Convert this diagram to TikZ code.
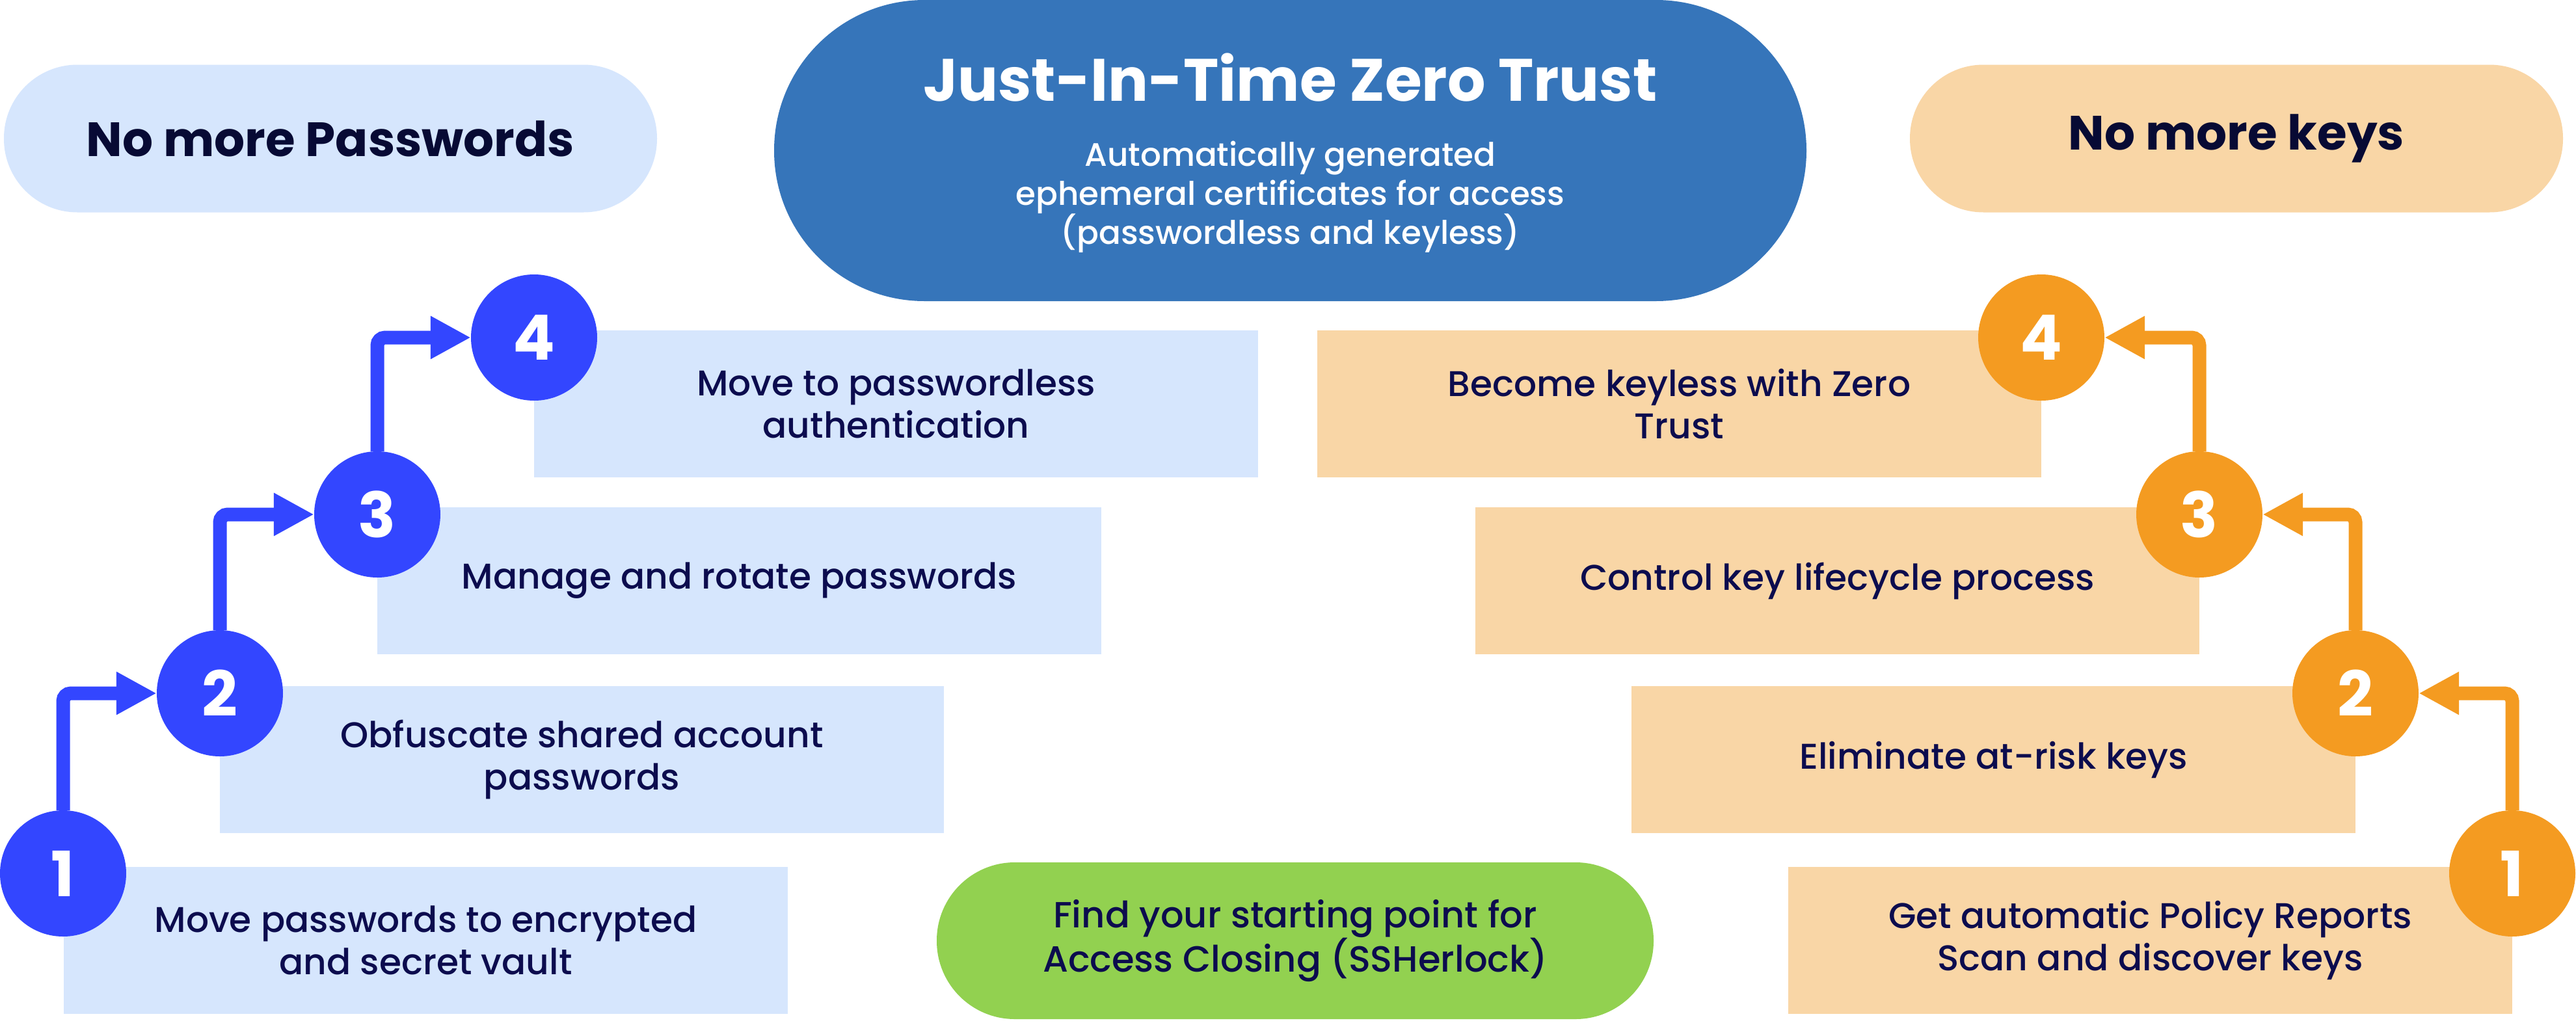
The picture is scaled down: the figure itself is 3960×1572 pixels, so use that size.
\documentclass[tikz,border=0pt]{standalone}
\usepackage{fontspec}
\setmainfont{Poppins}[UprightFont={* Medium},BoldFont={* Bold}]
\usetikzlibrary{arrows.meta}
\definecolor{circBlue}{RGB}{51,70,255}
\definecolor{lightBlue}{RGB}{214,230,253}
\definecolor{circOrange}{RGB}{244,155,33}
\definecolor{lightOrange}{RGB}{249,214,166}
\definecolor{titleBlue}{RGB}{54,117,186}
\definecolor{pillGreen}{RGB}{146,209,80}
\definecolor{navy}{RGB}{12,12,78}
\definecolor{darknavy}{RGB}{7,10,52}
\tikzset{
  stepboxL/.style={fill=lightBlue,minimum width=1113pt,minimum height=226pt,inner sep=0pt,
    text=navy,align=center,font=\fontsize{55}{65}\selectfont},
  stepboxR/.style={stepboxL,fill=lightOrange},
  numcirc/.style={circle,minimum size=194pt,inner sep=0pt,text=white,
    font=\fontsize{96}{100}\selectfont\bfseries},
  numL/.style={numcirc,fill=circBlue},
  numR/.style={numcirc,fill=circOrange},
  header/.style={minimum width=1004pt,minimum height=227pt,rounded corners=113pt,inner sep=0pt,
    text=darknavy,font=\fontsize{74}{80}\selectfont\bfseries},
  flowL/.style={draw=circBlue,line width=21pt,rounded corners=12pt,
    -{Triangle[length=62pt,width=62pt]}},
  flowR/.style={flowL,draw=circOrange},
}
\begin{document}
\begin{tikzpicture}[x=1pt,y=-1pt]
\useasboundingbox[fill=white] (0,0) rectangle (3960,1572);
% headers
\node[header,fill=lightBlue] (hp) at (508,213) {No more Passwords};
\node[header,fill=lightOrange] (hk) at (3438,213) {No more keys};
% title pill
\node[fill=titleBlue,minimum width=1587pt,minimum height=463pt,rounded corners=231pt,inner sep=0pt] (jit) at (1983.5,231.5) {};
\node[anchor=base,text=white,font=\fontsize{92}{100}\selectfont\bfseries,inner sep=0pt] (jitt) at (1983.5,155) {Just-In-Time Zero Trust};
\node[text=white,align=center,font=\fontsize{50}{60}\selectfont,inner sep=0pt] (jits) at (1983.5,303) {Automatically generated\\ephemeral certificates for access\\(passwordless and keyless)};
% green pill
\node[fill=pillGreen,minimum width=1102pt,minimum height=241pt,rounded corners=120pt,inner sep=0pt,
  text=navy,align=center,font=\fontsize{56}{65}\selectfont] (start) at (1991,1446.5) {Find your starting point for\\Access Closing (SSHerlock)};
% left boxes
\node[stepboxL] (lb1) at (654.5,1446) {Move passwords to encrypted\\and secret vault};
\node[stepboxL] (lb2) at (894.5,1168) {Obfuscate shared account\\passwords};
\node[stepboxL] (lb3) at (1136.5,893) {Manage and rotate passwords};
\node[stepboxL] (lb4) at (1377.5,621) {Move to passwordless\\authentication};
% right boxes
\node[stepboxR] (rb1) at (3305.5,1446) {Get automatic Policy Reports\\Scan and discover keys};
\node[stepboxR] (rb2) at (3064.5,1168) {Eliminate at-risk keys};
\node[stepboxR] (rb3) at (2824.5,893) {Control key lifecycle process};
\node[stepboxR] (rb4) at (2581.5,621) {Become keyless with Zero\\Trust};
% circles (coordinates)
\coordinate (pl1) at (97,1343);
\coordinate (pl2) at (338,1066);
\coordinate (pl3) at (580,791);
\coordinate (pl4) at (821,519);
\coordinate (pr1) at (3862,1343);
\coordinate (pr2) at (3621,1066);
\coordinate (pr3) at (3381,791);
\coordinate (pr4) at (3138,519);
\node[numL] (lc1) at (pl1) {1};
\node[numL] (lc2) at (pl2) {2};
\node[numL] (lc3) at (pl3) {3};
\node[numL] (lc4) at (pl4) {4};
\node[numR] (rc1) at (pr1) {1};
\node[numR] (rc2) at (pr2) {2};
\node[numR] (rc3) at (pr3) {3};
\node[numR] (rc4) at (pr4) {4};
% connectors
\draw[flowL] (lc1.north) |- (lc2.west);
\draw[flowL] (lc2.north) |- (lc3.west);
\draw[flowL] (lc3.north) |- (lc4.west);
\draw[flowR] (rc1.north) |- (rc2.east);
\draw[flowR] (rc2.north) |- (rc3.east);
\draw[flowR] (rc3.north) |- (rc4.east);
\end{tikzpicture}
\end{document}
